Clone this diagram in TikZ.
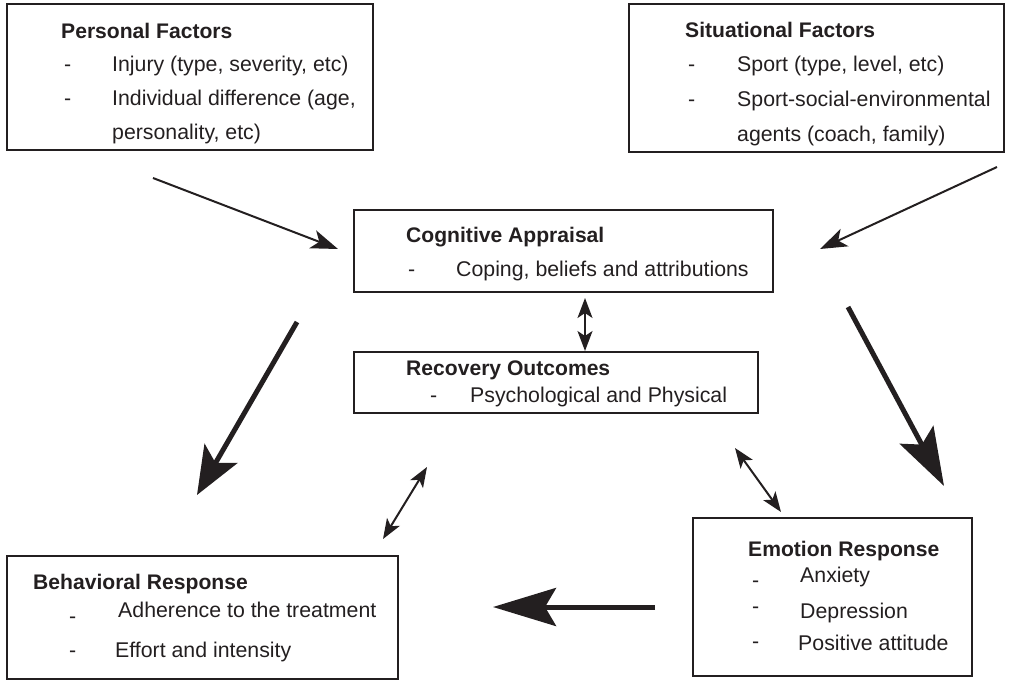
\documentclass[tikz,border=0pt]{standalone}
\usepackage{fontspec}
\setmainfont{Liberation Sans}
\usetikzlibrary{arrows.meta}
\definecolor{ink}{HTML}{231F20}
\begin{document}
\begin{tikzpicture}[x=1pt,y=-1pt,
  box/.style={draw=ink, line width=2.5pt, anchor=north west, inner sep=0pt, outer sep=0pt},
  txt/.style={anchor=base west, inner sep=0pt, text=ink, font=\fontsize{21.3}{25}\selectfont},
  ttl/.style={txt, font=\fontsize{21.1}{25}\selectfont\bfseries},
  thin/.style={draw=ink, line width=2pt, -{Stealth[length=27pt,width=19pt,inset=7pt]}},
  fat/.style={draw=ink, line width=5pt, -{Stealth[length=#1,width=38pt,inset=11pt]}},
  dbl/.style={draw=ink, line width=2pt, {Stealth[length=20pt,width=15pt,inset=5pt]}-{Stealth[length=20pt,width=15pt,inset=5pt]}}
]
\useasboundingbox (0,0) rectangle (1009,680);

% boxes
\node[box, minimum width=366pt, minimum height=146pt] (pf) at (7,4) {};
\node[box, minimum width=375pt, minimum height=148pt] (sf) at (629,4) {};
\node[box, minimum width=419pt, minimum height=82pt] (ca) at (354,210) {};
\node[box, minimum width=404pt, minimum height=61pt] (ro) at (354,352) {};
\node[box, minimum width=279pt, minimum height=158pt] (er) at (693,518) {};
\node[box, minimum width=391pt, minimum height=123pt] (br) at (7,556) {};

% Personal factors
\node[ttl] (pft) at (61,38) {Personal Factors};
\node[txt] (pfd1) at (64,71) {-};
\node[txt] (pf1) at (112,71) {Injury (type, severity, etc)};
\node[txt] (pfd2) at (64,105) {-};
\node[txt] (pf2) at (112,105) {Individual difference (age,};
\node[txt] (pf3) at (112,139) {personality, etc)};

% Situational factors
\node[ttl] (sft) at (685,37) {Situational Factors};
\node[txt] (sfd1) at (688,71) {-};
\node[txt] (sf1) at (737,71) {Sport (type, level, etc)};
\node[txt] (sfd2) at (688,106) {-};
\node[txt] (sf2) at (737,106) {Sport-social-environmental};
\node[txt] (sf3) at (737,141) {agents (coach, family)};

% Cognitive appraisal
\node[ttl] (cat) at (406,242) {Cognitive Appraisal};
\node[txt] (cad) at (408,276) {-};
\node[txt] (ca1) at (456,276) {Coping, beliefs and attributions};

% Recovery outcomes
\node[ttl] (rot) at (406,375) {Recovery Outcomes};
\node[txt] (rod) at (430,402) {-};
\node[txt] (ro1) at (470,402) {Psychological and Physical};

% Emotion response
\node[ttl] (ert) at (748,556) {Emotion Response};
\node[txt] (erd1) at (752,587) {-};
\node[txt] (er1) at (800,582) {Anxiety};
\node[txt] (erd2) at (752,613) {-};
\node[txt] (er2) at (800,618) {Depression};
\node[txt] (erd3) at (752,648) {-};
\node[txt] (er3) at (798,650) {Positive attitude};

% Behavioral response
\node[ttl] (brt) at (33,589) {Behavioral Response};
\node[txt] (brd1) at (69,623) {-};
\node[txt] (br1) at (118,617) {Adherence to the treatment};
\node[txt] (brd2) at (69,657) {-};
\node[txt] (br2) at (115,657) {Effort and intensity};

% connector end points
\coordinate (a1s) at (153,178);  \coordinate (a1e) at (338,249);
\coordinate (a2s) at (997,167);  \coordinate (a2e) at (820,249);
\coordinate (a3s) at (585,298);  \coordinate (a3e) at (585,351);
\coordinate (a4s) at (297,322);  \coordinate (a4e) at (197,495);
\coordinate (a5s) at (848,307);  \coordinate (a5e) at (944,486);
\coordinate (a6s) at (383,539);  \coordinate (a6e) at (427,467);
\coordinate (a7s) at (735,448);  \coordinate (a7e) at (781,512);
\coordinate (a8s) at (655,607);  \coordinate (a8e) at (493,607);

\draw[thin] (a1s) -- (a1e);
\draw[thin] (a2s) -- (a2e);
\draw[dbl] (a3s) -- (a3e);
\draw[fat=48pt] (a4s) -- (a4e);
\draw[fat=58pt] (a5s) -- (a5e);
\draw[dbl] (a6s) -- (a6e);
\draw[dbl] (a7s) -- (a7e);
\draw[fat=63pt] (a8s) -- (a8e);
\end{tikzpicture}
\end{document}
